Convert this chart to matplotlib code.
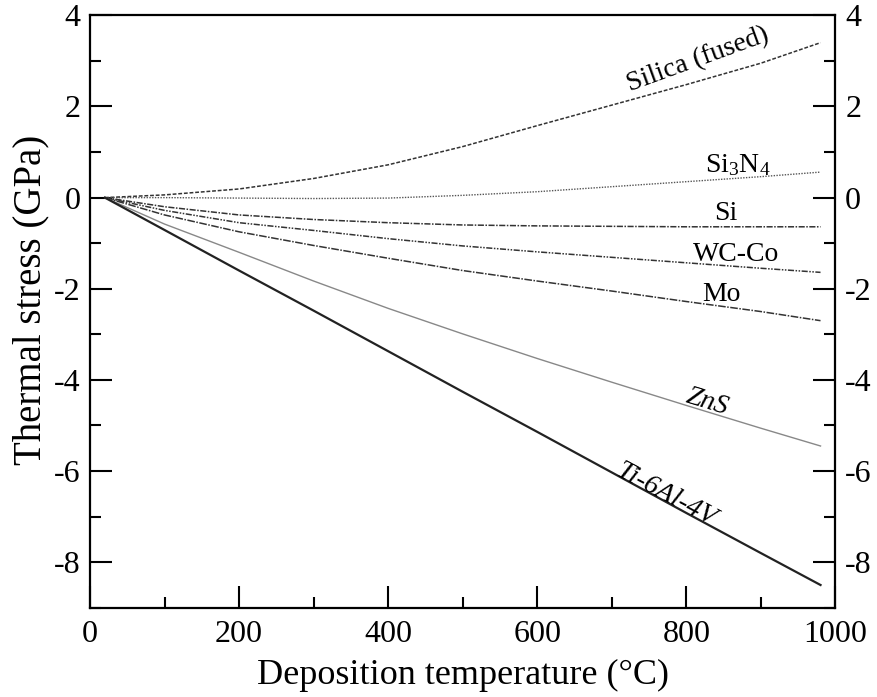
import matplotlib
matplotlib.use("Agg")
import matplotlib.pyplot as plt
import numpy as np

plt.rcParams['font.family'] = ['Liberation Serif', 'DejaVu Serif']
plt.rcParams['mathtext.fontset'] = 'custom'
plt.rcParams['mathtext.rm'] = 'Liberation Serif'
plt.rcParams['mathtext.it'] = 'Liberation Serif:italic'
plt.rcParams['axes.unicode_minus'] = False

# deposition temperature (C)
temp = [20, 100, 200, 300, 400, 500, 600, 700, 800, 900, 980]

# thermal stress (GPa)
silica = [0, 0.06, 0.19, 0.42, 0.72, 1.12, 1.58, 2.03, 2.48, 2.95, 3.40]
si3n4 = [0, 0.0, -0.01, -0.02, -0.01, 0.05, 0.13, 0.24, 0.35, 0.46, 0.56]
si = [0, -0.2, -0.38, -0.48, -0.55, -0.6, -0.62, -0.63, -0.64, -0.64, -0.64]
wcco = [0, -0.28, -0.55, -0.72, -0.9, -1.06, -1.19, -1.31, -1.43, -1.55, -1.64]
mo = [0, -0.38, -0.75, -1.05, -1.33, -1.6, -1.83, -2.05, -2.28, -2.5, -2.7]
zns = [0, -0.58, -1.2, -1.83, -2.43, -2.99, -3.53, -4.05, -4.56, -5.06, -5.45]
ti64 = [0, -0.71, -1.6, -2.48, -3.37, -4.26, -5.14, -6.03, -6.92, -7.8, -8.5]

fig = plt.figure(figsize=(8.77, 6.97), dpi=100)
ax = fig.add_axes([0.1026, 0.128, 0.850, 0.850])

ax.plot(temp, silica, color='#333333', lw=1.1, dashes=(2.5, 1.2))
ax.plot(temp, si3n4, color='#555555', lw=1.0, dashes=(1, 1))
ax.plot(temp, si, color='#333333', lw=1.1, dashes=(4, 1, 1, 1))
ax.plot(temp, wcco, color='#333333', lw=1.1, dashes=(4, 1, 1, 1, 1, 1))
ax.plot(temp, mo, color='#333333', lw=1.1, dashes=(5, 1, 1, 1))
ax.plot(temp, zns, color='#888888', lw=1.0)
ax.plot(temp, ti64, color='#222222', lw=1.6)

fs = 20
ax.text(815, 3.02, 'Silica (fused)', fontsize=fs, rotation=20, ha='center', va='center')
ax.text(869, 0.72, 'Si$_3$N$_4$', fontsize=fs, ha='center', va='center')
ax.text(853, -0.35, 'Si', fontsize=fs, ha='center', va='center')
ax.text(867, -1.25, 'WC-Co', fontsize=fs, ha='center', va='center')
ax.text(847, -2.13, 'Mo', fontsize=fs, ha='center', va='center')
ax.text(828, -4.48, 'ZnS', fontsize=fs, rotation=-17, style='italic', ha='center', va='center')
ax.text(772, -6.52, 'Ti-6Al-4V', fontsize=fs, rotation=-28, style='italic', ha='center', va='center')

ax.set_xlim(0, 1000)
ax.set_ylim(-9, 4)
ax.set_xticks(np.arange(0, 1001, 200))
ax.set_xticks(np.arange(100, 1000, 200), minor=True)
ax.set_yticks(np.arange(-8, 5, 2))
ax.set_yticks(np.arange(-9, 4, 2), minor=True)

ax.tick_params(which='both', direction='in', right=True, top=False,
               labelright=True, labelsize=23, width=1.5)
ax.tick_params(which='major', length=16)
ax.tick_params(which='minor', length=8)
ax.tick_params(axis='x', pad=9)
ax.tick_params(axis='y', pad=7)
for s in ax.spines.values():
    s.set_linewidth(1.6)

ax.set_xlabel('Deposition temperature (°C)', fontsize=26, labelpad=7)
ax.set_ylabel('Thermal stress (GPa)', fontsize=28)
ax.yaxis.set_label_coords(-0.054, 0.52)

fig.savefig('out.png', dpi=100)
